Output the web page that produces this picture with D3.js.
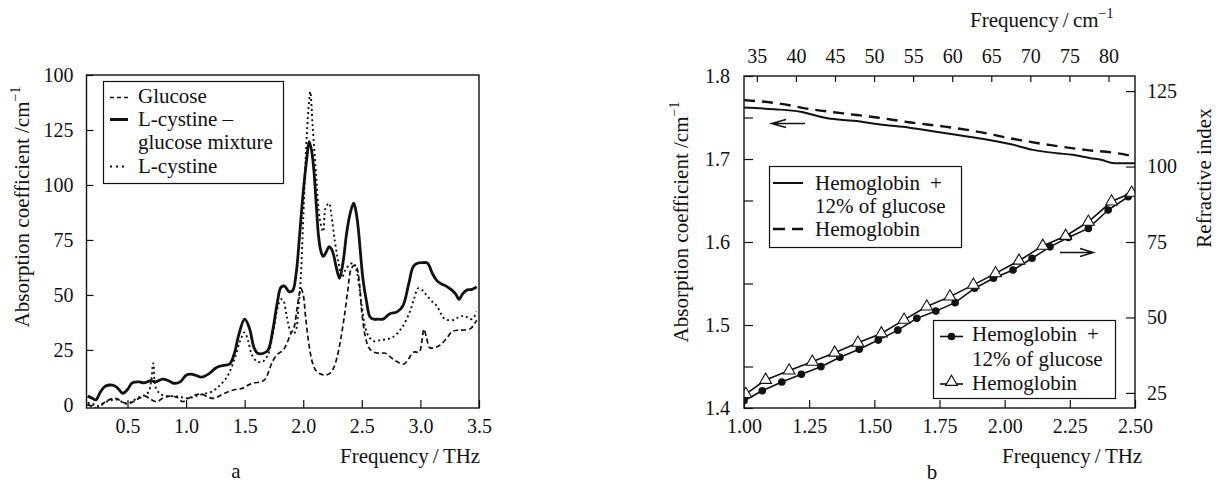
<!DOCTYPE html>
<html>
<head>
<meta charset="utf-8">
<script src="https://cdn.jsdelivr.net/npm/d3@7"></script>
<style>
body { margin: 0; background: #fff; }
text { font-family: "Liberation Serif" !important; }
.tick text { font-size: 20px; fill: #111; }
.tick line { stroke: #111; stroke-width: 1.2; }
</style>
</head>
<body>
<div id="chart-area"></div>
<script>
// ---- panel a : absorption spectra ----
const mixFreq = [0.16,0.2,0.23,0.27,0.31,0.37,0.41,0.46,0.5,0.54,0.6,0.64,0.7,0.74,0.8,0.85,0.9,0.95,1.0,1.04,1.08,1.13,1.19,1.26,1.32,1.37,1.41,1.45,1.5,1.54,1.58,1.61,1.66,1.7,1.74,1.78,1.81,1.84,1.88,1.91,1.94,1.97,2.0,2.03,2.05,2.07,2.09,2.11,2.13,2.15,2.17,2.2,2.22,2.24,2.26,2.28,2.31,2.34,2.37,2.4,2.43,2.45,2.47,2.49,2.51,2.54,2.57,2.6,2.64,2.68,2.74,2.8,2.85,2.9,2.94,2.98,3.02,3.06,3.1,3.14,3.18,3.22,3.26,3.3,3.33,3.36,3.4,3.44,3.48]
const mixAbs = [4,3,2.3,6,8.5,9,8,5.3,7,10,10.5,10,11,10.5,11.7,11,9.8,10.5,13.5,14,13.5,12.6,14,17,18,18.5,23,32,39,35,26,23.5,23.5,25,34,47,53.5,54,51.5,52,60,78,97,112,119.7,116,107,92,77,70,67.5,70,72,71,68,63,57.6,65,78,87,91.7,88,80,68,57,47,40,39,39,39,41.5,42.3,45,55,63,64.5,64.7,64.5,60,56.5,55,54,52.5,50.5,48,50.5,52.3,52.5,53.7]

const gluFreq = [0.16,0.2,0.25,0.3,0.35,0.4,0.45,0.5,0.55,0.6,0.65,0.7,0.75,0.8,0.86,0.92,0.97,1.02,1.08,1.13,1.19,1.24,1.3,1.36,1.42,1.48,1.53,1.58,1.64,1.68,1.71,1.74,1.78,1.83,1.86,1.89,1.92,1.95,1.98,2.0,2.02,2.05,2.08,2.11,2.15,2.19,2.23,2.26,2.29,2.32,2.35,2.38,2.41,2.44,2.46,2.48,2.5,2.53,2.56,2.6,2.65,2.7,2.75,2.8,2.86,2.9,2.94,2.99,3.01,3.03,3.05,3.08,3.12,3.17,3.22,3.27,3.32,3.36,3.43,3.48]
const gluAbs = [0.5,-1,-1.5,1,2.5,3,1.5,0.5,1.5,3,4,2.5,1.5,3,4,3.5,1.5,3,4.5,5,3.5,3,4.5,6,7,7.5,9,10,10.5,12,16,20,23,25,28,32,35,45,53,50,40,27,19,15.5,14,13.6,14.5,17,22,30,40,52,62,63.6,62,55,42,31,26,24,23.5,23.5,21.5,19.7,18.6,21,24,24,28,34.4,31,26,26,27.3,30,33.3,34,34,34.8,38.6]

const cysFreq = [0.16,0.2,0.25,0.3,0.35,0.4,0.45,0.5,0.55,0.6,0.65,0.68,0.7,0.72,0.74,0.78,0.84,0.9,0.96,1.02,1.08,1.15,1.22,1.28,1.34,1.38,1.42,1.46,1.5,1.53,1.56,1.6,1.65,1.7,1.74,1.78,1.81,1.83,1.86,1.9,1.93,1.96,1.98,2.0,2.03,2.05,2.06,2.08,2.11,2.14,2.17,2.19,2.22,2.24,2.27,2.3,2.33,2.36,2.4,2.43,2.46,2.5,2.53,2.56,2.6,2.66,2.72,2.77,2.84,2.91,2.95,2.98,3.02,3.05,3.1,3.14,3.18,3.21,3.28,3.33,3.37,3.44,3.48]
const cysAbs = [1,0.5,-0.5,1,2,2.5,1.5,0.5,2,3.5,4.5,6,10,19,8,5,4,4,3.5,3,4,5,6,8.5,12,16,22,29,33,29,23,20,19.5,23,32,44,48,47.5,40,32.6,33,45,59,85,122.7,138,142.4,127,104.5,84.8,78.8,89.4,91.7,86.4,74.2,65,58,61.4,64,64.4,60,44.7,35,31,29,29.5,30,31,35,42.4,49,53,52,50,47,45,41,39,38.6,40,40.5,39,42.4]

const aXTicks = [0.5,1.0,1.5,2.0,2.5,3.0,3.5]
const aYTicks = [0,25,50,75,100,125,150]
const aYLabels = ["0","25","50","75","100","125","100"]

// ---- panel b : hemoglobin ----
const absFreqGlu = [1.0,1.115,1.217,1.32,1.42,1.54,1.63,1.73,1.82,1.92,2.02,2.11,2.2,2.26,2.33,2.37,2.42,2.5]
const absGlu = [1.762,1.760,1.757,1.749,1.746,1.741,1.738,1.733,1.729,1.724,1.718,1.711,1.707,1.705,1.701,1.699,1.695,1.695]
const absFreqHb = [1.0,1.13,1.256,1.38,1.51,1.64,1.77,1.895,2.02,2.17,2.31,2.43,2.5]
const absHb = [1.771,1.767,1.760,1.755,1.750,1.744,1.739,1.733,1.725,1.717,1.711,1.707,1.703]

const refFreqGlu = [1.0,1.07,1.145,1.22,1.295,1.368,1.442,1.515,1.59,1.663,1.736,1.81,1.885,1.957,2.032,2.105,2.174,2.244,2.321,2.397,2.474]
const refGlu = [22.4,25.7,28.6,31.2,33.7,36.8,39.5,42.5,45.8,49.7,52.1,54.9,59.7,63.0,65.7,69.6,73.4,76.5,79.5,85.6,90]
const refFreqHb = [1.007,1.083,1.173,1.262,1.348,1.437,1.527,1.614,1.701,1.79,1.88,1.965,2.055,2.146,2.234,2.321,2.41,2.487]
const refHb = [24.6,29.3,32.4,35.3,38.3,41.6,44.7,49.2,53.6,56.9,60.8,64.6,68.8,73.7,77,81.7,88.4,91.3]

const bXTicks = [1.0,1.25,1.5,1.75,2.0,2.25,2.5]
const bTopTicks = [35,40,45,50,55,60,65,70,75,80]
const bLeftTicks = [1.4,1.45,1.5,1.55,1.6,1.65,1.7,1.75,1.8]
const bRightTicks = [25,50,75,100,125]
const THZ_TO_CM = 33.356

const FONT = '"Liberation Serif"'

const svg = d3.select("#chart-area")
   .append("svg")
   .attr("width", 1218)
   .attr("height", 483)
   .style("font-family", FONT)

const zip = (xs, ys) => xs.map((x, i) => [x, ys[i]])

// d3 axes put their own sans-serif font on the group; take it off again
const serifAxis = g => {
   g.attr("font-family", null).attr("font-size", null).style("font-family", FONT)
   g.selectAll("text").style("font-family", FONT)
   g.select(".domain").remove()
}

const label = (sel, x, y, txt) => sel.append("text")
   .attr("x", x).attr("y", y)
   .attr("font-size", 21).attr("fill", "#111")
   .style("font-family", FONT)
   .text(txt)

// ================= panel a =================
const xa = d3.scaleLinear().domain([0.15, 3.5]).range([86.5, 479])
const ya = d3.scaleLinear().domain([-1.4, 150]).range([408, 75])

svg.append("clipPath").attr("id", "clipA")
   .append("rect").attr("x", 86.5).attr("y", 75).attr("width", 392.5).attr("height", 333)

svg.append("g")
   .attr("transform", "translate(86.5,0)")
   .call(d3.axisLeft(ya).tickValues(aYTicks).tickSize(-7).tickPadding(13)
      .tickFormat((d, i) => aYLabels[i]))
   .call(serifAxis)

svg.append("g")
   .attr("transform", "translate(0,408)")
   .call(d3.axisBottom(xa).tickValues(aXTicks).tickSize(-8).tickPadding(11)
      .tickFormat(d3.format(".1f")))
   .call(serifAxis)

const lineA = d3.line()
   .x(d => xa(d[0]))
   .y(d => ya(d[1]))
   .curve(d3.curveCatmullRom.alpha(0.5))

const curvesA = svg.append("g").attr("clip-path", "url(#clipA)")

curvesA.append("path")
   .datum(zip(gluFreq, gluAbs))
   .attr("d", lineA)
   .attr("fill", "none")
   .attr("stroke", "#111")
   .attr("stroke-width", 1.7)
   .attr("stroke-dasharray", "5,3")

curvesA.append("path")
   .datum(zip(cysFreq, cysAbs))
   .attr("d", lineA)
   .attr("fill", "none")
   .attr("stroke", "#111")
   .attr("stroke-width", 1.9)
   .attr("stroke-dasharray", "2,3")

curvesA.append("path")
   .datum(zip(mixFreq, mixAbs))
   .attr("d", lineA)
   .attr("fill", "none")
   .attr("stroke", "#111")
   .attr("stroke-width", 2.8)
   .attr("stroke-linejoin", "round")

svg.append("rect")
   .attr("x", 86.5).attr("y", 75).attr("width", 392.5).attr("height", 333)
   .attr("fill", "none").attr("stroke", "#111").attr("stroke-width", 1.4)

// legend a
const legA = svg.append("g")
legA.append("rect")
   .attr("x", 103.5).attr("y", 81.5).attr("width", 180).attr("height", 102)
   .attr("fill", "#fff").attr("stroke", "#111").attr("stroke-width", 1.2)
const legAItems = [
   {y: 97.5, dash: "4,3", w: 1.7},
   {y: 119.5, dash: null, w: 3},
   {y: 166.5, dash: "2,4", w: 1.9}
]
legAItems.forEach(it => {
   legA.append("line")
      .attr("x1", 110).attr("x2", 128).attr("y1", it.y).attr("y2", it.y)
      .attr("stroke", "#111").attr("stroke-width", it.w)
      .attr("stroke-dasharray", it.dash)
})
const legAText = [["Glucose", 102.5], ["L-cystine \u2013", 125.5], ["glucose mixture", 148.5], ["L-cystine", 172.5]]
legAText.forEach(t => label(legA, 138, t[1], t[0]))

// labels a
const yLabA = svg.append("text")
   .attr("transform", "translate(29,207) rotate(-90)")
   .attr("text-anchor", "middle").attr("font-size", 21).attr("fill", "#111")
   .style("font-family", FONT)
yLabA.append("tspan").text("Absorption coefficient /cm")
yLabA.append("tspan").attr("dy", -9).attr("font-size", 14).text("\u22121")

label(svg, 340, 463, "Frequency\u2009/\u2009THz")
label(svg, 236, 478, "a").attr("text-anchor", "middle")

// ================= panel b =================
const xb = d3.scaleLinear().domain([1.0, 2.5]).range([744, 1135])
const xt = d3.scaleLinear().domain([1.0 * THZ_TO_CM, 2.5 * THZ_TO_CM]).range([744, 1135])
const yb = d3.scaleLinear().domain([1.4, 1.8]).range([408, 76])
const yr = d3.scaleLinear().domain([20, 130]).range([408, 76])

svg.append("clipPath").attr("id", "clipB")
   .append("rect").attr("x", 744).attr("y", 76).attr("width", 391).attr("height", 332)

svg.append("g")
   .attr("transform", "translate(744,0)")
   .call(d3.axisLeft(yb).tickValues(bLeftTicks).tickSize(-9).tickPadding(14)
      .tickFormat(d => Math.round(d * 100) % 10 === 0 ? d.toFixed(1) : ""))
   .call(serifAxis)

svg.append("g")
   .attr("transform", "translate(1135,0)")
   .call(d3.axisRight(yr).tickValues(bRightTicks).tickSize(-9).tickPadding(12))
   .call(serifAxis)

svg.append("g")
   .attr("transform", "translate(0,408)")
   .call(d3.axisBottom(xb).tickValues(bXTicks).tickSize(-8).tickPadding(11)
      .tickFormat(d3.format(".2f")))
   .call(serifAxis)

svg.append("g")
   .attr("transform", "translate(0,76)")
   .call(d3.axisTop(xt).tickValues(bTopTicks).tickSize(-6).tickPadding(13))
   .call(serifAxis)

const curvesB = svg.append("g").attr("clip-path", "url(#clipB)")

const lineAbs = d3.line()
   .x(d => xb(d[0]))
   .y(d => yb(d[1]))
   .curve(d3.curveMonotoneX)

curvesB.append("path")
   .datum(zip(absFreqHb, absHb))
   .attr("d", lineAbs)
   .attr("fill", "none").attr("stroke", "#111").attr("stroke-width", 2.4)
   .attr("stroke-dasharray", "11,7")

curvesB.append("path")
   .datum(zip(absFreqGlu, absGlu))
   .attr("d", lineAbs)
   .attr("fill", "none").attr("stroke", "#111").attr("stroke-width", 2)

const lineRef = d3.line()
   .x(d => xb(d[0]))
   .y(d => yr(d[1]))

curvesB.append("path")
   .datum(zip(refFreqGlu, refGlu))
   .attr("d", lineRef)
   .attr("fill", "none").attr("stroke", "#111").attr("stroke-width", 1.6)

curvesB.append("path")
   .datum(zip(refFreqHb, refHb))
   .attr("d", lineRef)
   .attr("fill", "none").attr("stroke", "#111").attr("stroke-width", 1.6)

curvesB.selectAll(".dot")
   .data(zip(refFreqGlu, refGlu))
   .enter()
   .append("circle")
   .attr("class", "dot")
   .attr("cx", d => xb(d[0]))
   .attr("cy", d => yr(d[1]))
   .attr("r", 3.8)
   .attr("fill", "#111")

const tri = d3.symbol().type(d3.symbolTriangle).size(60)
curvesB.selectAll(".tri")
   .data(zip(refFreqHb, refHb))
   .enter()
   .append("path")
   .attr("class", "tri")
   .attr("d", tri)
   .attr("transform", d => `translate(${xb(d[0])},${yr(d[1])})`)
   .attr("fill", "#fff")
   .attr("stroke", "#111")
   .attr("stroke-width", 1.1)

svg.append("rect")
   .attr("x", 744).attr("y", 76).attr("width", 391).attr("height", 332)
   .attr("fill", "none").attr("stroke", "#111").attr("stroke-width", 1.4)

// arrows
svg.append("path")
   .attr("d", "M805,123.5 L771.5,123.5 M786,119.5 L771.5,123.5 L786,127.5")
   .attr("fill", "none").attr("stroke", "#111").attr("stroke-width", 1.4)
svg.append("path")
   .attr("d", "M1060,252.5 L1093.5,252.5 M1080,248.5 L1093.5,252.5 L1080,256.5")
   .attr("fill", "none").attr("stroke", "#111").attr("stroke-width", 1.4)

// legend b1 (absorption)
const legB1 = svg.append("g")
legB1.append("rect")
   .attr("x", 769.5).attr("y", 166.5).attr("width", 192).attr("height", 81)
   .attr("fill", "#fff").attr("stroke", "#111").attr("stroke-width", 1.2)
legB1.append("line")
   .attr("x1", 773).attr("x2", 803).attr("y1", 183).attr("y2", 183)
   .attr("stroke", "#111").attr("stroke-width", 2)
legB1.append("line")
   .attr("x1", 773).attr("x2", 803).attr("y1", 229).attr("y2", 229)
   .attr("stroke", "#111").attr("stroke-width", 2.4).attr("stroke-dasharray", "12,7")
const legB1Text = label(legB1, 815, 190, null)
legB1Text.append("tspan").text("Hemoglobin")
legB1Text.append("tspan").attr("dx", 10).text("+")
label(legB1, 815, 213, "12% of glucose")
label(legB1, 815, 236, "Hemoglobin")

// legend b2 (refractive index)
const legB2 = svg.append("g")
legB2.append("rect")
   .attr("x", 933.5).attr("y", 320.5).attr("width", 182).attr("height", 78)
   .attr("fill", "#fff").attr("stroke", "#111").attr("stroke-width", 1.2)
legB2.append("line")
   .attr("x1", 940).attr("x2", 963).attr("y1", 336.5).attr("y2", 336.5)
   .attr("stroke", "#111").attr("stroke-width", 1.6)
legB2.append("circle").attr("cx", 951.5).attr("cy", 336.5).attr("r", 3.8).attr("fill", "#111")
legB2.append("line")
   .attr("x1", 940).attr("x2", 963).attr("y1", 384).attr("y2", 384)
   .attr("stroke", "#111").attr("stroke-width", 1.6)
legB2.append("path").attr("d", tri).attr("transform", "translate(951.5,382)")
   .attr("fill", "#fff").attr("stroke", "#111").attr("stroke-width", 1.1)
const legB2Text = label(legB2, 972, 341, null)
legB2Text.append("tspan").text("Hemoglobin")
legB2Text.append("tspan").attr("dx", 10).text("+")
label(legB2, 972, 366, "12% of glucose")
label(legB2, 972, 390, "Hemoglobin")

// labels b
const yLabB = svg.append("text")
   .attr("transform", "translate(688,222) rotate(-90)")
   .attr("text-anchor", "middle").attr("font-size", 21).attr("fill", "#111")
   .style("font-family", FONT)
yLabB.append("tspan").text("Absorption coefficient /cm")
yLabB.append("tspan").attr("dy", -9).attr("font-size", 14).text("\u22121")

svg.append("text")
   .attr("transform", "translate(1211,178) rotate(-90)")
   .attr("text-anchor", "middle").attr("font-size", 21).attr("fill", "#111")
   .style("font-family", FONT)
   .text("Refractive index")

const topLab = label(svg, 970, 27, null)
topLab.append("tspan").text("Frequency\u2009/\u2009cm")
topLab.append("tspan").attr("dy", -9).attr("font-size", 14).text("\u22121")

label(svg, 1002, 463, "Frequency\u2009/\u2009THz")
label(svg, 932, 479, "b").attr("text-anchor", "middle")
</script>
</body>
</html>
